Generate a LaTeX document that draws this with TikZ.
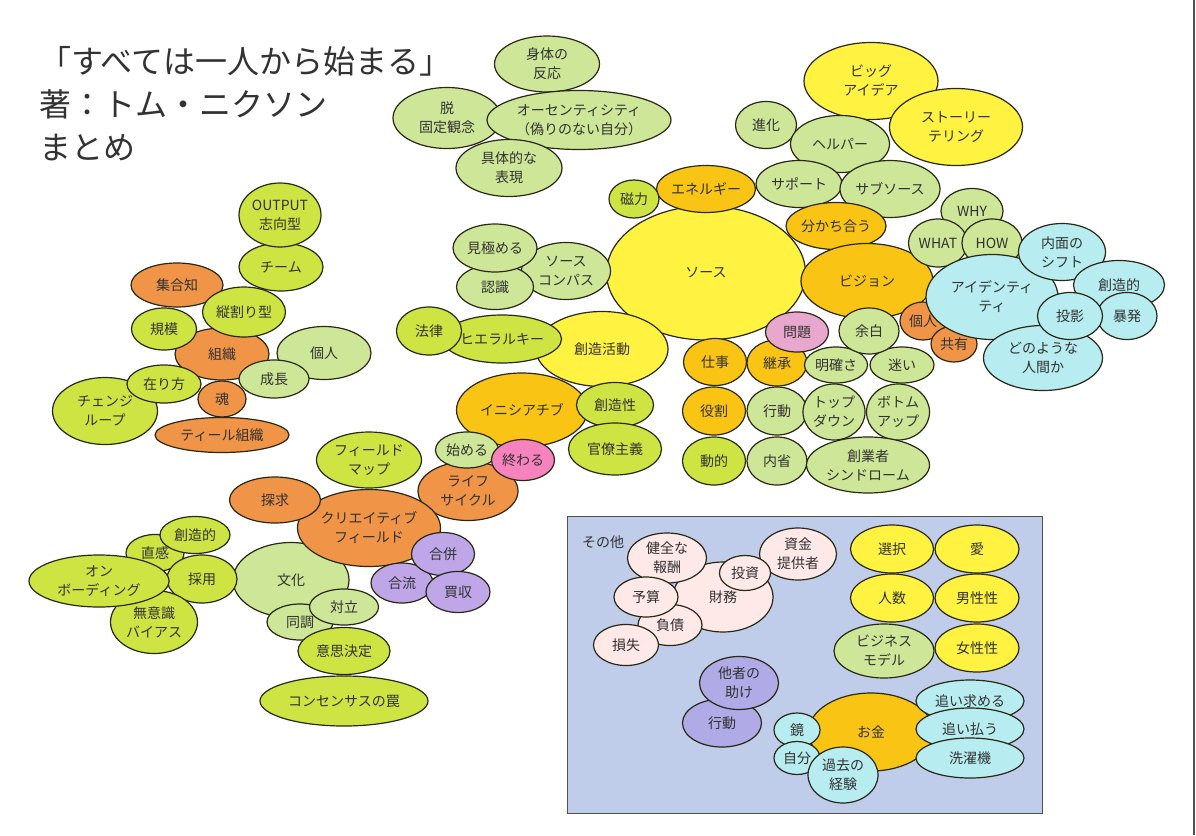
\documentclass[tikz,border=0pt]{standalone}
\usepackage{fontspec}
\setmainfont{Noto Sans CJK JP}
\usepackage{tikz}
\usetikzlibrary{shapes.geometric}
\definecolor{cyel}{RGB}{255,242,64}
\definecolor{cgold}{RGB}{250,196,20}
\definecolor{clgreen}{RGB}{206,230,152}
\definecolor{cygreen}{RGB}{206,228,66}
\definecolor{corange}{RGB}{240,148,72}
\definecolor{ccyan}{RGB}{183,236,240}
\definecolor{cpink}{RGB}{232,168,205}
\definecolor{cmag}{RGB}{246,130,190}
\definecolor{cpurple}{RGB}{190,166,232}
\definecolor{cblue}{RGB}{176,170,230}
\definecolor{crose}{RGB}{255,232,232}
\definecolor{boxbg}{RGB}{191,205,235}
\definecolor{boxline}{RGB}{80,80,80}
\definecolor{linec}{RGB}{40,40,20}
\definecolor{txt}{RGB}{50,50,50}

\begin{document}
\begin{tikzpicture}[x=1pt,y=-1pt,font=\fontsize{14}{19}\selectfont,
  bub/.style={ellipse,draw=linec,line width=1.2pt,inner sep=-2pt,align=center,text=txt},
  sz/.style 2 args={minimum width=#1pt,minimum height=#2pt},
  yel/.style={bub,fill=cyel}, gld/.style={bub,fill=cgold},
  lgr/.style={bub,fill=clgreen}, ygr/.style={bub,fill=cygreen},
  org/.style={bub,fill=corange}, cya/.style={bub,fill=ccyan},
  pnk/.style={bub,fill=cpink}, mag/.style={bub,fill=cmag},
  pur/.style={bub,fill=cpurple}, blu/.style={bub,fill=cblue},
  ros/.style={bub,fill=crose},
  ttl/.style={anchor=base west,inner sep=0,text=txt,font=\fontsize{32}{43}\selectfont}]
\fill[white] (0,0) rectangle (1196,835);
\useasboundingbox (0,0) rectangle (1196,835);
% title
\node[ttl] (title1) at (39,73) {「すべては一人から始まる」};
\node[ttl] (title2) at (39,116) {著：トム・ニクソン};
\node[ttl] (title3) at (39,159) {まとめ};
% authenticity
\node[lgr,sz={105}{56}] (body) at (547,64) {身体の\\反応};
\node[lgr,sz={108}{61}] (unfixed) at (447,118) {脱\\固定観念};
\node[lgr,sz={184}{59}] (authen) at (579,120) {オーセンティシティ\\（偽りのない自分）};
\node[lgr,sz={106}{57}] (concrete) at (509,168) {具体的な\\表現};
% big idea, helper
\node[yel,sz={134}{77}] (bigidea) at (871,81) {ビッグ\\アイデア};
\node[yel,sz={133}{77}] (story) at (956,127) {ストーリー\\テリング};
\node[lgr,sz={61}{47}] (evolve) at (766,125) {進化};
\node[lgr,sz={99}{57}] (helper) at (840,144) {ヘルパー};
\node[lgr,sz={86}{47}] (support) at (799,184) {サポート};
\node[lgr,sz={100}{57}] (subsrc) at (890,189) {サブソース};
% source
\node[yel,sz={199}{134}] (source) at (706,273) {ソース};
\node[gld,sz={99}{47}] (energy) at (706,189) {エネルギー};
\node[ygr,sz={50}{38}] (magnet) at (634,199) {磁力};
\node[gld,sz={100}{47}] (share) at (836,226) {分かち合う};
\node[gld,sz={132}{75}] (vision) at (867,281) {ビジョン};
% identity
\node[lgr,sz={62}{45}] (why) at (972,211) {WHY};
\node[lgr,sz={59}{48}] (what) at (938,243) {WHAT};
\node[lgr,sz={60}{48}] (how) at (992,243) {HOW};
\node[org,sz={46}{38}] (indivr) at (923,321) {個人};
\node[org,sz={46}{36}] (common) at (954,344) {共有};
\node[cya,sz={132}{85}] (identity) at (992,297) {アイデンティ\\ティ};
\node[cya,sz={87}{57}] (inner) at (1062,252) {内面の\\シフト};
\node[cya,sz={91}{49}] (creatc) at (1119,285) {創造的};
\node[cya,sz={60}{47}] (burst) at (1127,316) {暴発};
\node[cya,sz={119}{65}] (whatman) at (1043,358) {どのような\\人間か};
\node[cya,sz={65}{47}] (project) at (1070,316) {投影};
% compass, creative work
\node[lgr,sz={89}{57}] (compass) at (566,271) {ソース\\コンパス};
\node[lgr,sz={77}{45}] (aware) at (495,287) {認識};
\node[lgr,sz={84}{48}] (discern) at (495,248) {見極める};
\node[yel,sz={132}{75}] (creatwork) at (602,349) {創造活動};
\node[ygr,sz={119}{48}] (hier) at (502,339) {ヒエラルキー};
\node[ygr,sz={65}{48}] (law) at (429,331) {法律};
\node[gld,sz={131}{74}] (initiative) at (522,410) {イニシアチブ};
\node[ygr,sz={77}{45}] (creativity) at (615,405) {創造性};
\node[ygr,sz={93}{52}] (bureau) at (615,449) {官僚主義};
\node[org,sz={100}{59}] (lifecycle) at (468,491) {ライフ\\サイクル};
\node[lgr,sz={63}{36}] (begin) at (467,450) {始める};
\node[mag,sz={63}{41}] (finish) at (523,460) {終わる};
% roles
\node[gld,sz={60}{46}] (inherit) at (777,363) {継承};
\node[pnk,sz={63}{40}] (problem) at (797,332) {問題};
\node[lgr,sz={63}{36}] (clarity) at (836,365) {明確さ};
\node[lgr,sz={64}{36}] (doubt) at (902,365) {迷い};
\node[lgr,sz={60}{46}] (margin) at (869,331) {余白};
\node[gld,sz={63}{47}] (work) at (715,362) {仕事};
\node[gld,sz={63}{48}] (role) at (714,411) {役割};
\node[lgr,sz={60}{48}] (action) at (777,411) {行動};
\node[lgr,sz={62}{56}] (topdown) at (834,412) {トップ\\ダウン};
\node[lgr,sz={63}{56}] (bottomup) at (898,412) {ボトム\\アップ};
\node[ygr,sz={63}{48}] (dynamic) at (714,461) {動的};
\node[lgr,sz={60}{48}] (reflect) at (777,461) {内省};
\node[lgr,sz={123}{56}] (founder) at (868,465) {創業者\\シンドローム};
% organisation
\node[org,sz={92}{44}] (collect) at (177,285) {集合知};
\node[org,sz={94}{52}] (org) at (222,354) {組織};
\node[ygr,sz={65}{42}] (scale) at (164,329) {規模};
\node[ygr,sz={83}{50}] (silo) at (244,312) {縦割り型};
\node[ygr,sz={84}{48}] (team) at (281,267) {チーム};
\node[ygr,sz={82}{64}] (output) at (280,215) {OUTPUT\\志向型};
\node[lgr,sz={94}{53}] (indivl) at (324,353) {個人};
\node[lgr,sz={70}{38}] (growth) at (274,379) {成長};
\node[ygr,sz={105}{67}] (change) at (105,411) {チェンジ\\ループ};
\node[ygr,sz={74}{38}] (being) at (164,384) {在り方};
\node[org,sz={48}{36}] (soul) at (222,399) {魂};
\node[org,sz={134}{35}] (teal) at (222,435) {ティール組織};
% creative field
\node[ygr,sz={105}{56}] (fieldmap) at (369,460) {フィールド\\マップ};
\node[lgr,sz={116}{75}] (culture) at (291,580) {文化};
\node[org,sz={143}{77}] (cfield) at (369,528) {クリエイティブ\\フィールド};
\node[org,sz={91}{46}] (quest) at (275,500) {探求};
\node[pur,sz={62}{40}] (confl) at (402,583) {合流};
\node[pur,sz={63}{43}] (merge) at (443,554) {合併};
\node[pur,sz={64}{41}] (acquire) at (458,592) {買収};
\node[lgr,sz={66}{36}] (conform) at (300,622) {同調};
\node[lgr,sz={69}{36}] (conflict) at (344,607) {対立};
\node[ygr,sz={92}{47}] (decide) at (344,651) {意思決定};
\node[ygr,sz={168}{50}] (consensus) at (344,701) {コンセンサスの罠};
\node[ygr,sz={58}{37}] (intuit) at (155,553) {直感};
\node[ygr,sz={70}{37}] (creatl) at (195,535) {創造的};
\node[ygr,sz={70}{48}] (hire) at (202,579) {採用};
\node[ygr,sz={87}{63}] (bias) at (154,622) {無意識\\バイアス};
\node[ygr,sz={140}{52}] (onboard) at (99,581) {オン\\ボーディング};
% others
\node[draw=boxline,fill=boxbg,line width=1pt,anchor=north west,inner sep=0,
  minimum width=475pt,minimum height=297pt] (otherbox) at (567,516) {};
\node[text=txt] (otherlbl) at (603,542) {その他};
\node[ros,sz={100}{70}] (finance) at (723,597) {財務};
\node[ros,sz={77}{52}] (funder) at (798,554) {資金\\提供者};
\node[ros,sz={79}{50}] (reward) at (667,558) {健全な\\報酬};
\node[ros,sz={51}{35}] (invest) at (745,573) {投資};
\node[ros,sz={64}{41}] (debt) at (670,625) {負債};
\node[ros,sz={64}{40}] (budget) at (646,597) {予算};
\node[ros,sz={65}{41}] (loss) at (626,645) {損失};
\node[yel,sz={83}{48}] (choice) at (892,549) {選択};
\node[yel,sz={84}{48}] (love) at (977,549) {愛};
\node[yel,sz={83}{48}] (number) at (892,598) {人数};
\node[yel,sz={84}{48}] (masc) at (977,598) {男性性};
\node[lgr,sz={100}{54}] (bizmodel) at (884,651) {ビジネス\\モデル};
\node[yel,sz={84}{48}] (fem) at (977,648) {女性性};
\node[blu,sz={79}{48}] (actionb) at (722,723) {行動};
\node[blu,sz={79}{53}] (helpothers) at (739,683) {他者の\\助け};
\node[gld,sz={125}{78}] (money) at (871,732) {お金};
\node[cya,sz={108}{42}] (pursue) at (970,701) {追い求める};
\node[cya,sz={108}{42}] (repel) at (970,729) {追い払う};
\node[cya,sz={108}{40}] (washer) at (970,758) {洗濯機};
\node[cya,sz={46}{34}] (mirror) at (797,730) {鏡};
\node[cya,sz={46}{33}] (self) at (797,758) {自分};
\node[cya,sz={70}{56}] (past) at (843,775) {過去の\\経験};
% page edge
\coordinate (edgetop) at (1194,0);
\coordinate (edgebot) at (1194,835);
\draw[boxline,line width=1.5pt] (edgetop) -- (edgebot);
\end{tikzpicture}
\end{document}
